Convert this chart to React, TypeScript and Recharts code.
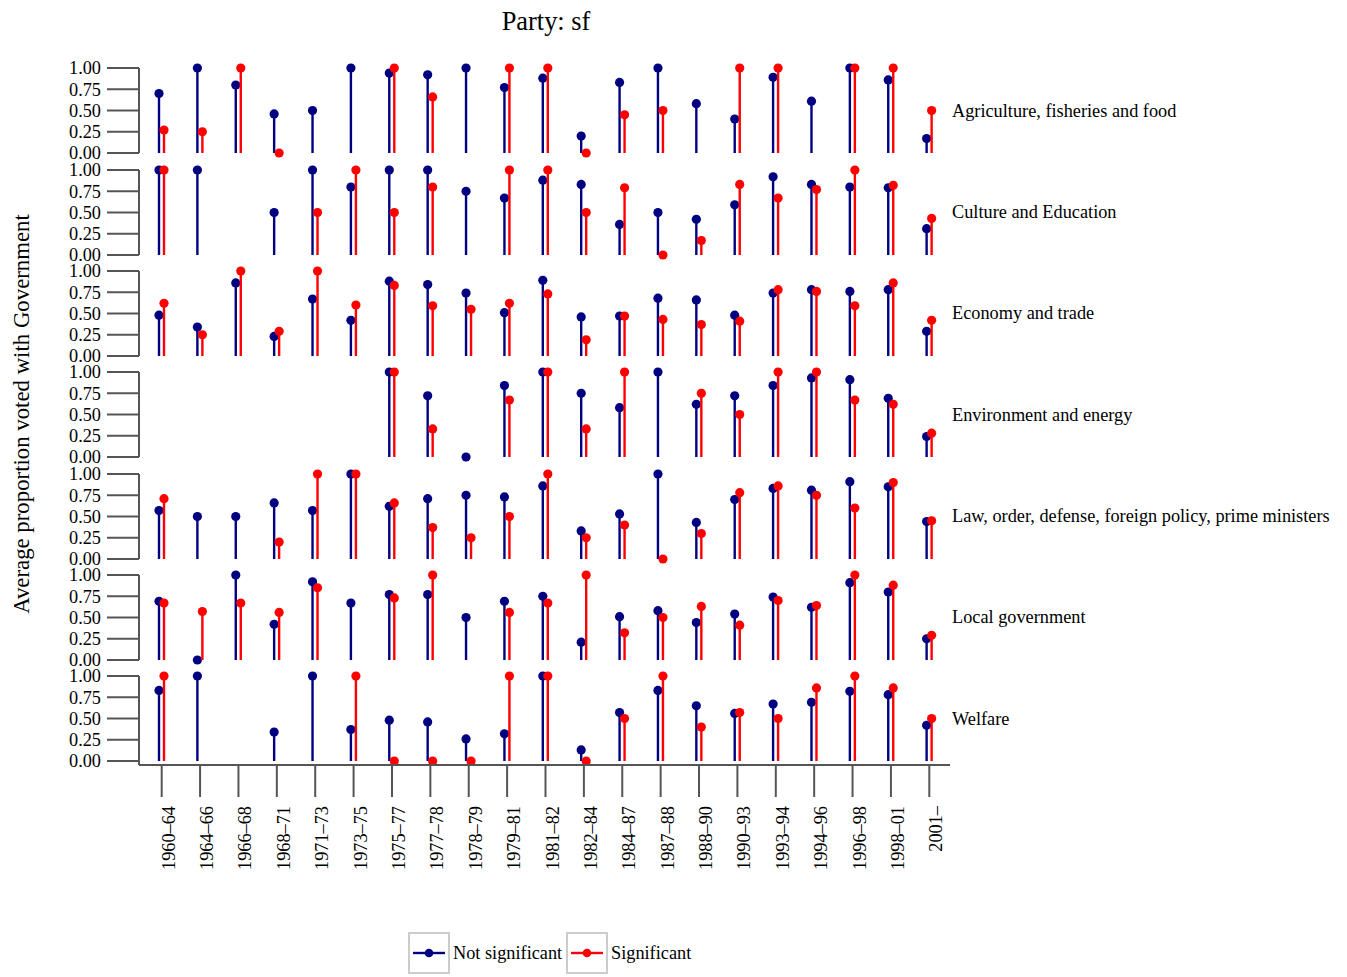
import React from 'react';
import { BarChart, Bar, XAxis, YAxis } from 'recharts';

const FONT = '"Liberation Serif", "DejaVu Serif", serif';
const NAVY = '#000080';
const RED = '#ff0000';
const AXIS = '#555555';

const periods = [
  '1960–64', '1964–66', '1966–68', '1968–71', '1971–73', '1973–75', '1975–77',
  '1977–78', '1978–79', '1979–81', '1981–82', '1982–84', '1984–87', '1987–88',
  '1988–90', '1990–93', '1993–94', '1994–96', '1996–98', '1998–01', '2001–',
];

const yTicks = [0, 0.25, 0.5, 0.75, 1];

// proportions per period, null = no votes in that period
const agricultureNotSig = [0.70, 1.00, 0.80, 0.46, 0.50, 1.00, 0.94, 0.92, 1.00, 0.77, 0.88, 0.20, 0.83, 1.00, 0.58, 0.40, 0.89, 0.61, 1.00, 0.86, 0.17];
const agricultureSig = [0.27, 0.25, 1.00, 0.00, null, null, 1.00, 0.66, null, 1.00, 1.00, 0.00, 0.45, 0.50, null, 1.00, 1.00, null, 1.00, 1.00, 0.50];

const cultureNotSig = [1.00, 1.00, null, 0.50, 1.00, 0.80, 1.00, 1.00, 0.75, 0.67, 0.88, 0.83, 0.36, 0.50, 0.42, 0.59, 0.92, 0.83, 0.80, 0.79, 0.31];
const cultureSig = [1.00, null, null, null, 0.50, 1.00, 0.50, 0.80, null, 1.00, 1.00, 0.50, 0.79, 0.00, 0.17, 0.83, 0.67, 0.77, 1.00, 0.82, 0.43];

const economyNotSig = [0.48, 0.34, 0.86, 0.23, 0.67, 0.42, 0.88, 0.84, 0.74, 0.51, 0.89, 0.46, 0.47, 0.68, 0.66, 0.48, 0.74, 0.78, 0.76, 0.78, 0.29];
const economySig = [0.62, 0.25, 1.00, 0.29, 1.00, 0.60, 0.83, 0.59, 0.55, 0.62, 0.73, 0.19, 0.47, 0.43, 0.37, 0.41, 0.78, 0.76, 0.59, 0.86, 0.42];

const environmentNotSig = [null, null, null, null, null, null, 1.00, 0.72, 0.00, 0.84, 1.00, 0.75, 0.58, 1.00, 0.62, 0.72, 0.84, 0.93, 0.91, 0.69, 0.24];
const environmentSig = [null, null, null, null, null, null, 1.00, 0.33, null, 0.67, 1.00, 0.33, 1.00, null, 0.75, 0.50, 1.00, 1.00, 0.67, 0.62, 0.28];

const lawNotSig = [0.57, 0.50, 0.50, 0.66, 0.57, 1.00, 0.62, 0.71, 0.75, 0.73, 0.86, 0.33, 0.53, 1.00, 0.43, 0.70, 0.83, 0.81, 0.91, 0.85, 0.44];
const lawSig = [0.71, null, null, 0.20, 1.00, 1.00, 0.66, 0.37, 0.25, 0.50, 1.00, 0.25, 0.40, 0.00, 0.30, 0.78, 0.86, 0.75, 0.60, 0.90, 0.45];

const localNotSig = [0.69, 0.00, 1.00, 0.42, 0.92, 0.67, 0.77, 0.77, 0.50, 0.69, 0.75, 0.21, 0.51, 0.58, 0.44, 0.54, 0.74, 0.62, 0.91, 0.80, 0.25];
const localSig = [0.67, 0.57, 0.67, 0.56, 0.85, null, 0.73, 1.00, null, 0.56, 0.67, 1.00, 0.32, 0.50, 0.63, 0.41, 0.70, 0.64, 1.00, 0.88, 0.29];

const welfareNotSig = [0.83, 1.00, null, 0.34, 1.00, 0.37, 0.48, 0.46, 0.26, 0.32, 1.00, 0.13, 0.57, 0.83, 0.65, 0.56, 0.67, 0.69, 0.82, 0.78, 0.42];
const welfareSig = [1.00, null, null, null, null, 1.00, 0.00, 0.00, 0.00, 1.00, 1.00, 0.00, 0.50, 1.00, 0.40, 0.57, 0.50, 0.86, 1.00, 0.86, 0.50];

const panels = [
  { name: 'Agriculture, fisheries and food', ns: agricultureNotSig, s: agricultureSig },
  { name: 'Culture and Education', ns: cultureNotSig, s: cultureSig },
  { name: 'Economy and trade', ns: economyNotSig, s: economySig },
  { name: 'Environment and energy', ns: environmentNotSig, s: environmentSig },
  { name: 'Law, order, defense, foreign policy, prime ministers', ns: lawNotSig, s: lawSig },
  { name: 'Local government', ns: localNotSig, s: localSig },
  { name: 'Welfare', ns: welfareNotSig, s: welfareSig },
];

const PANEL_TOP = 68.3; // y of 1.00 in first panel
const PANEL_STEP = 101.3;
const PLOT_H = 85;
const M_TOP = 14;
const M_BOTTOM = 14;
const CHART_W = 955;
const AXIS_W = 139;

const lollipop = (key: string) => (props: any) => {
  const { x, y, width, height, fill, payload } = props;
  if (!payload || payload[key] == null || isNaN(y)) return <g />;
  const cx = x + width / 2;
  return (
    <g>
      <line x1={cx} x2={cx} y1={y} y2={y + height} stroke={fill} strokeWidth={2.4} />
      <circle cx={cx} cy={y} r={4.6} fill={fill} />
    </g>
  );
};

const PeriodTick = (props: any) => {
  const { x, y, payload } = props;
  return (
    <text
      x={x}
      y={y}
      dy={13}
      textAnchor="end"
      transform={`rotate(-90, ${x}, ${y})`}
      fill="#000"
      fontSize={18.3}
      fontFamily={FONT}
    >
      {payload.value}
    </text>
  );
};

const Panel: React.FC<{ index: number }> = ({ index }) => {
  const p = panels[index];
  const last = index === panels.length - 1;
  const data = periods.map((period, i) => ({ period, ns: p.ns[i], s: p.s[i] }));
  const xAxisH = 120;
  const padBottom = last ? 4 : 0;
  const bottom = last ? 0 : M_BOTTOM;
  const height = M_TOP + PLOT_H + padBottom + (last ? xAxisH : 0) + bottom;
  const top = PANEL_TOP + index * PANEL_STEP - M_TOP;

  return (
    <div style={{ position: 'absolute', left: 0, top }}>
      <BarChart
        width={CHART_W}
        height={height}
        data={data}
        barGap={0}
        margin={{ top: M_TOP, right: 5, left: 0, bottom }}
      >
        <XAxis
          dataKey="period"
          type="category"
          hide={!last}
          height={xAxisH}
          padding={{ left: 3.5, right: 1.5 }}
          interval={0}
          tickSize={32}
          tickMargin={9}
          axisLine={{ stroke: AXIS, strokeWidth: 2 }}
          tickLine={{ stroke: AXIS, strokeWidth: 2 }}
          tick={<PeriodTick />}
        />
        <YAxis
          domain={[0, 1]}
          ticks={yTicks}
          interval={0}
          width={AXIS_W}
          padding={{ top: 0, bottom: padBottom }}
          tickFormatter={(v: number) => v.toFixed(2)}
          tickSize={32}
          tickMargin={6}
          axisLine={{ stroke: AXIS, strokeWidth: 2 }}
          tickLine={{ stroke: AXIS, strokeWidth: 2 }}
          tick={{ fill: '#000', fontSize: 18.3, fontFamily: FONT }}
        />
        <Bar dataKey="ns" name="Not significant" fill={NAVY} barSize={5} isAnimationActive={false} shape={lollipop('ns')} />
        <Bar dataKey="s" name="Significant" fill={RED} barSize={5} isAnimationActive={false} shape={lollipop('s')} />
      </BarChart>
    </div>
  );
};

const LegendKey: React.FC<{ x: number; color: string; label: string }> = ({ x, color, label }) => (
  <g>
    <rect x={x} y={933} width={40} height={40} fill="#fff" stroke="#cccccc" strokeWidth={2} />
    <line x1={x + 4} x2={x + 36} y1={953} y2={953} stroke={color} strokeWidth={2.4} />
    <circle cx={x + 20} cy={953} r={4.3} fill={color} />
    <text x={x + 44} y={953} dominantBaseline="central" fontSize={18.3} fontFamily={FONT} fill="#000">
      {label}
    </text>
  </g>
);

export default function App() {
  return (
    <div style={{ position: 'absolute', left: 0, top: 0, width: 1347, height: 977, background: '#fff', fontFamily: FONT }}>
      {panels.map((_, i) => (
        <Panel key={i} index={i} />
      ))}
      <svg
        width={1347}
        height={977}
        style={{ position: 'absolute', left: 0, top: 0, pointerEvents: 'none' }}
      >
        <text x={546} y={30} textAnchor="middle" fontSize={26.4} fontFamily={FONT} fill="#000">
          Party: sf
        </text>
        <text
          x={29}
          y={414}
          textAnchor="middle"
          transform="rotate(-90, 29, 414)"
          fontSize={22.8}
          fontFamily={FONT}
          fill="#000"
        >
          Average proportion voted with Government
        </text>
        {panels.map((p, i) => (
          <text
            key={p.name}
            x={952}
            y={PANEL_TOP + i * PANEL_STEP + PLOT_H / 2}
            dominantBaseline="central"
            fontSize={18.3}
            fontFamily={FONT}
            fill="#000"
          >
            {p.name}
          </text>
        ))}
        <LegendKey x={409} color={NAVY} label="Not significant" />
        <LegendKey x={567} color={RED} label="Significant" />
      </svg>
    </div>
  );
}
